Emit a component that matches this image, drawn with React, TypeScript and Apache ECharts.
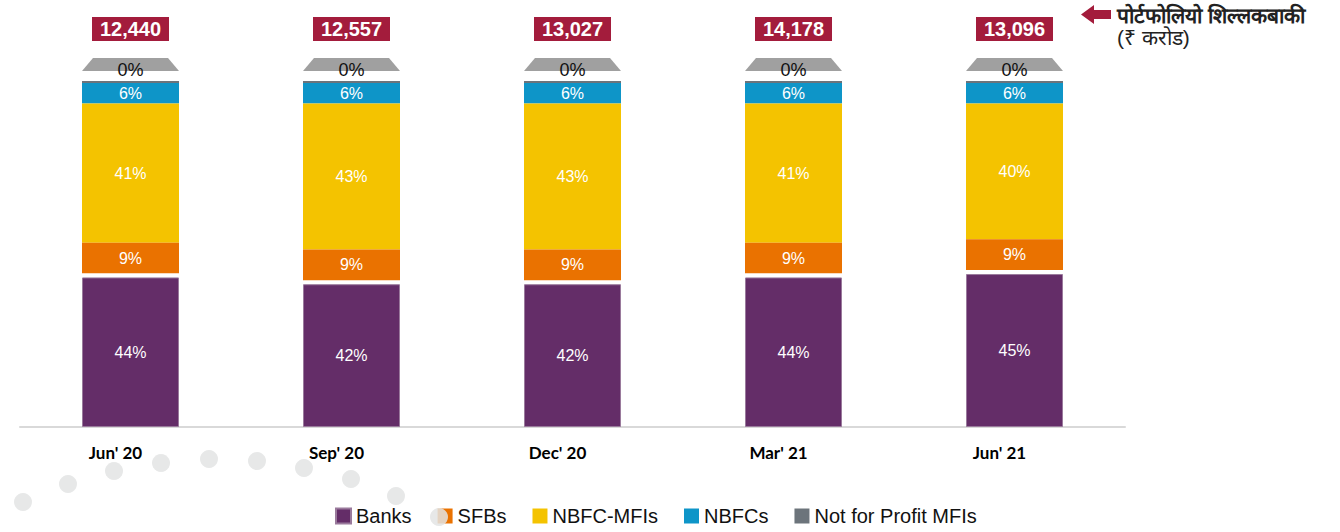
import React, { useEffect, useRef } from "react";
import * as echarts from "echarts";

const categories = ["Jun' 20", "Sep' 20", "Dec' 20", "Mar' 21", "Jun' 21"];
const banks = [44, 42, 42, 44, 45];
const sfbs = [9, 9, 9, 9, 9];
const nbfcMfis = [41, 43, 43, 41, 40];
const nbfcs = [6, 6, 6, 6, 6];
const notForProfit = [0, 0, 0, 0, 0];
const portfolio = [12440, 12557, 13027, 14178, 13096];
const portfolioTitle = ["पोर्टफोलियो शिल्लकबाकी", "(₹ करोड)"];

const FONT = "'Liberation Sans', Arial, sans-serif";
const BAR_W = 97;

const dots = [
  [23, 502], [68, 484], [114, 471], [161, 463], [209, 459],
  [257, 461], [304, 468], [351, 479], [396, 496], [439, 517],
];

export default function App() {
  const ref = useRef<HTMLDivElement>(null);
  useEffect(() => {
    if (!ref.current) return;
    const chart = echarts.init(ref.current, null, { renderer: "svg" });
    const segLabel = {
      show: true,
      position: "inside",
      color: "#ffffff",
      fontSize: 16,
      fontFamily: FONT,
      formatter: (p: any) => p.value + "%",
    };
    const option: any = {
      animation: false,
      backgroundColor: "#ffffff",
      grid: { left: 20, right: 215, top: 83, bottom: 105 },
      xAxis: {
        type: "category",
        data: categories,
        axisLine: { show: true, lineStyle: { color: "#d9d9d9", width: 2 } },
        axisTick: { show: false },
        axisLabel: {
          margin: 17,
          color: "#000000",
          fontSize: 17,
          fontWeight: "bold",
          fontFamily: "Lato, sans-serif",
          padding: [0, 30, 0, 0],
        },
      },
      yAxis: [
        { type: "value", min: 0, max: 101.2, show: false, splitLine: { show: false } },
        { type: "value", min: 0, max: 101.2, inverse: true, show: false, splitLine: { show: false } },
      ],
      legend: {
        data: ["Banks", "SFBs", "NBFC-MFIs", "NBFCs", "Not for Profit MFIs"],
        left: 330,
        top: 501,
        icon: "rect",
        itemWidth: 15,
        itemHeight: 15,
        itemGap: 26,
        textStyle: { fontSize: 20, color: "#111111", fontFamily: FONT },
      },
      series: [
        {
          name: "Banks",
          type: "bar",
          yAxisIndex: 0,
          barWidth: BAR_W,
          barGap: "-100%",
          data: banks,
          itemStyle: { color: "#642d68", borderColor: "#9a7a9c", borderWidth: 1 },
          label: segLabel,
        },
        {
          name: "NBFCs",
          type: "bar",
          yAxisIndex: 1,
          stack: "upper",
          barWidth: BAR_W,
          barGap: "-100%",
          data: nbfcs,
          itemStyle: { color: "#0e95c8" },
          label: segLabel,
        },
        {
          name: "NBFC-MFIs",
          type: "bar",
          yAxisIndex: 1,
          stack: "upper",
          barWidth: BAR_W,
          barGap: "-100%",
          data: nbfcMfis,
          itemStyle: { color: "#f4c300" },
          label: segLabel,
        },
        {
          name: "SFBs",
          type: "bar",
          yAxisIndex: 1,
          stack: "upper",
          barWidth: BAR_W,
          barGap: "-100%",
          data: sfbs,
          itemStyle: { color: "#ea7200" },
          label: segLabel,
        },
        {
          name: "Not for Profit MFIs",
          type: "custom",
          yAxisIndex: 1,
          itemStyle: { color: "#6c747b" },
          data: notForProfit.map((v, i) => [i, v]),
          renderItem: (params: any, api: any) => {
            const idx = api.value(0);
            const v = api.value(1);
            const p = api.coord([idx, 0]);
            const x0 = p[0] - BAR_W / 2;
            const top = p[1];
            return {
              type: "group",
              children: [
                { type: "rect", shape: { x: x0, y: top - 2, width: BAR_W, height: 2 }, style: { fill: "#6c747b" } },
                {
                  type: "polygon",
                  shape: {
                    points: [
                      [x0, top - 12],
                      [x0 + BAR_W, top - 12],
                      [x0 + BAR_W - 11, top - 25],
                      [x0 + 11, top - 25],
                    ],
                  },
                  style: { fill: "#a0a0a0" },
                },
                {
                  type: "text",
                  x: p[0],
                  y: top - 13.5,
                  style: {
                    text: v + "%",
                    fill: "#111111",
                    fontSize: 18,
                    fontFamily: FONT,
                    align: "center",
                    verticalAlign: "middle",
                  },
                },
              ],
            };
          },
        },
        {
          name: "Portfolio",
          type: "custom",
          yAxisIndex: 1,
          data: portfolio.map((v, i) => [i, v]),
          renderItem: (params: any, api: any) => {
            const idx = api.value(0);
            const v = api.value(1);
            const p = api.coord([idx, 0]);
            const top = p[1];
            return {
              type: "group",
              children: [
                { type: "rect", shape: { x: p[0] - 38.5, y: top - 66, width: 77, height: 24 }, style: { fill: "#a31c3c" } },
                {
                  type: "text",
                  x: p[0],
                  y: top - 54,
                  style: {
                    text: Number(v).toLocaleString("en-US"),
                    fill: "#ffffff",
                    fontSize: 20,
                    fontWeight: "bold",
                    fontFamily: FONT,
                    align: "center",
                    verticalAlign: "middle",
                  },
                },
              ],
            };
          },
        },
      ],
      graphic: [
        {
          type: "polygon",
          shape: {
            points: [
              [1081, 14.5], [1094, 5], [1094, 10], [1111, 10],
              [1111, 19], [1094, 19], [1094, 24],
            ],
          },
          style: { fill: "#a31c3c" },
        },
        {
          type: "text",
          x: 1117,
          y: 15,
          style: {
            text: portfolioTitle[0],
            fill: "#222222",
            fontSize: 21,
            fontWeight: "bold",
            fontFamily: FONT,
            verticalAlign: "middle",
          },
        },
        {
          type: "text",
          x: 1117,
          y: 37,
          style: {
            text: portfolioTitle[1],
            fill: "#222222",
            fontSize: 21,
            fontFamily: FONT,
            verticalAlign: "middle",
          },
        },
        ...dots.map(([x, y]) => ({
          type: "circle",
          z: 100,
          shape: { cx: x, cy: y, r: 9 },
          style: { fill: "#e3e4e4", opacity: 0.85 },
        })),
      ],
    };
    chart.setOption(option);
    return () => chart.dispose();
  }, []);
  return (
    <div
      ref={ref}
      style={{ position: "fixed", left: 0, top: 0, width: 1340, height: 532 }}
    />
  );
}
